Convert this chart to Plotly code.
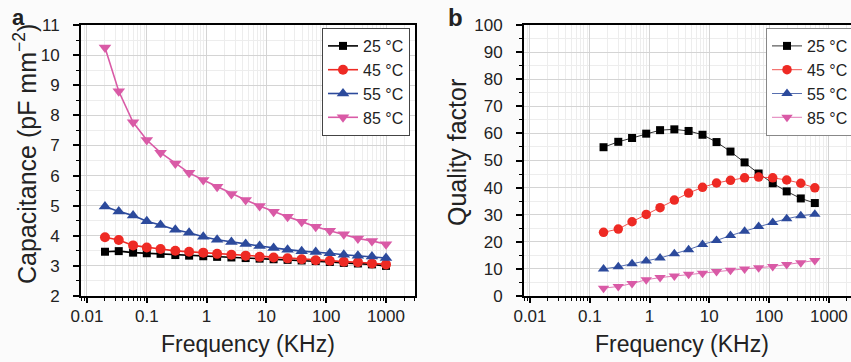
import plotly.graph_objects as go

# ---------------- data ----------------
freq_a = [0.02, 0.034, 0.059, 0.10, 0.17, 0.30, 0.51, 0.88, 1.5, 2.6, 4.5, 7.7,
          13.2, 22.6, 38.9, 66.8, 115, 197, 339, 582, 1000]
cap_25 = [3.47, 3.49, 3.44, 3.42, 3.40, 3.36, 3.34, 3.32, 3.30, 3.28, 3.26, 3.24,
          3.22, 3.20, 3.18, 3.16, 3.13, 3.10, 3.08, 3.05, 3.00]
cap_45 = [3.95, 3.86, 3.68, 3.61, 3.56, 3.50, 3.47, 3.44, 3.40, 3.37, 3.34, 3.30,
          3.28, 3.25, 3.22, 3.19, 3.17, 3.14, 3.12, 3.08, 3.05]
cap_55 = [4.97, 4.81, 4.67, 4.48, 4.36, 4.20, 4.10, 3.97, 3.87, 3.79, 3.73, 3.66,
          3.59, 3.54, 3.49, 3.46, 3.42, 3.37, 3.34, 3.31, 3.26]
cap_85 = [10.25, 8.80, 7.77, 7.18, 6.76, 6.40, 6.09, 5.85, 5.63, 5.39, 5.19, 4.99,
          4.80, 4.63, 4.47, 4.30, 4.17, 4.05, 3.91, 3.83, 3.72]

freq_b = [0.17, 0.30, 0.51, 0.88, 1.5, 2.6, 4.5, 7.7, 13.2, 22.6, 38.9, 66.8,
          115, 197, 339, 582]
q_25 = [54.9, 56.9, 58.3, 59.9, 61.2, 61.5, 60.9, 59.5, 56.8, 53.3, 49.3, 45.2,
        41.6, 38.6, 36.0, 34.3]
q_45 = [23.5, 24.7, 27.4, 30.1, 32.6, 35.4, 38.0, 40.1, 41.7, 42.7, 43.6, 43.9,
        43.6, 42.8, 41.6, 39.9]
q_55 = [10.0, 10.8, 11.9, 12.9, 14.0, 15.6, 17.1, 19.0, 20.5, 22.3, 23.9, 25.6,
        27.1, 28.5, 29.6, 30.2]
q_85 = [2.9, 3.5, 4.6, 6.0, 6.8, 7.4, 8.0, 8.4, 9.0, 9.5, 10.0, 10.4,
        10.9, 11.6, 12.3, 13.1]

series_names = ["25 °C", "45 °C", "55 °C", "85 °C"]
colors = ["#000000", "#ee2a24", "#2c4a9c", "#d95aa6"]
symbols = ["square", "circle", "triangle-up", "triangle-down"]

x_tickvals = [0.01, 0.1, 1, 10, 100, 1000]
x_ticktext = ["0.01", "0.1", "1", "10", "100", "1000"]

FONT = "Liberation Sans, Arial, sans-serif"
W, H = 851, 362

fig = go.Figure()

sizes_a = [8, 10, 11, 11]
for name, ys, c, s, ms in zip(series_names, [cap_25, cap_45, cap_55, cap_85], colors, symbols, sizes_a):
    fig.add_trace(go.Scatter(x=freq_a, y=ys, name=name, mode="lines+markers",
                             line=dict(color=c, width=1.6),
                             marker=dict(symbol=s, color=c, size=ms),
                             xaxis="x", yaxis="y", legend="legend"))

sizes_b = [8, 9.5, 10, 10]
for name, ys, c, s, ms in zip(series_names, [q_25, q_45, q_55, q_85], colors, symbols, sizes_b):
    fig.add_trace(go.Scatter(x=freq_b, y=ys, name=name, mode="lines+markers",
                             line=dict(color=c, width=0.8),
                             marker=dict(symbol=s, color=c, size=ms),
                             xaxis="x2", yaxis="y2", legend="legend2"))

ydom = [1 - 296 / H, 1 - 25 / H]

common_x = dict(type="log", tickmode="array", tickvals=x_tickvals, ticktext=x_ticktext,
                showline=True, linecolor="black", linewidth=2, mirror=True,
                ticks="outside", ticklen=5, tickwidth=1.5, tickcolor="black",
                showgrid=True, gridcolor="#d4d4d4", gridwidth=1,
                minor=dict(ticks="outside", ticklen=3, tickwidth=1, tickcolor="black",
                           showgrid=True, gridcolor="#ededed", dtick="D1"),
                tickfont=dict(family=FONT, size=17, color="#222"),
                ticklabelstandoff=-1, zeroline=False)

common_y = dict(showline=True, linecolor="black", linewidth=2,
                ticks="outside", ticklen=6, tickwidth=1.5, tickcolor="black",
                showgrid=True, gridcolor="#d4d4d4", gridwidth=1,
                tickfont=dict(family=FONT, size=17, color="#222"),
                ticklabelstandoff=10, zeroline=False)

fig.update_layout(
    width=W, height=H,
    margin=dict(l=0, r=0, t=0, b=0, autoexpand=False),
    paper_bgcolor="#fbfbfb", plot_bgcolor="#ffffff",
    showlegend=True,
    xaxis=dict(domain=[81 / W, 415 / W], range=[-2.1, 3.485], anchor="y", **common_x),
    yaxis=dict(domain=ydom, range=[2, 11], dtick=1, anchor="x", mirror=True,
               minor=dict(ticks="outside", ticklen=3, tickwidth=1, tickcolor="black",
                          dtick=0.5, showgrid=True, gridcolor="#ededed"),
               **common_y),
    xaxis2=dict(domain=[524 / W, 1.0], range=[-2.1, 3.37], anchor="y2", **common_x),
    yaxis2=dict(domain=ydom, range=[0, 100], dtick=10, anchor="x2", mirror=False,
                minor=dict(ticks="outside", ticklen=3, tickwidth=1, tickcolor="black",
                           dtick=5, showgrid=True, gridcolor="#ededed"),
                **common_y),
    legend=dict(x=322 / W, y=1 - 28 / H, xanchor="left", yanchor="top",
                bgcolor="#ffffff", bordercolor="#444", borderwidth=1,
                font=dict(family=FONT, size=16, color="#222"), tracegroupgap=0),
    legend2=dict(x=766 / W, y=1 - 28 / H, xanchor="left", yanchor="top",
                 bgcolor="#ffffff", bordercolor="#888", borderwidth=1,
                 font=dict(family=FONT, size=16, color="#222"), tracegroupgap=0),
)

annos = [
    dict(text="Frequency (KHz)", x=248 / W, y=1 - 344 / H, size=23, angle=0),
    dict(text="Frequency (KHz)", x=682 / W, y=1 - 344 / H, size=23, angle=0),
    dict(text="Capacitance (pF mm<sup>−2</sup>)", x=25 / W, y=1 - 154 / H, size=25, angle=-90),
    dict(text="Quality factor", x=457 / W, y=1 - 152 / H, size=25, angle=-90),
]
for a in annos:
    fig.add_annotation(text=a["text"], x=a["x"], y=a["y"], xref="paper", yref="paper",
                       xanchor="center", yanchor="middle", showarrow=False, textangle=a["angle"],
                       font=dict(family=FONT, size=a["size"], color="#222"))

fig.add_annotation(text="<b>a</b>", x=10 / W, y=1 - 18 / H, xref="paper", yref="paper",
                   xanchor="left", yanchor="middle", showarrow=False,
                   font=dict(family=FONT, size=22, color="#222"))
fig.add_annotation(text="<b>b</b>", x=446 / W, y=1 - 17 / H, xref="paper", yref="paper",
                   xanchor="left", yanchor="middle", showarrow=False,
                   font=dict(family=FONT, size=24, color="#222"))

fig.write_html("out.html", config={"displayModeBar": False},
               post_script="document.body.style.margin='0px';document.body.style.overflow='hidden';")
